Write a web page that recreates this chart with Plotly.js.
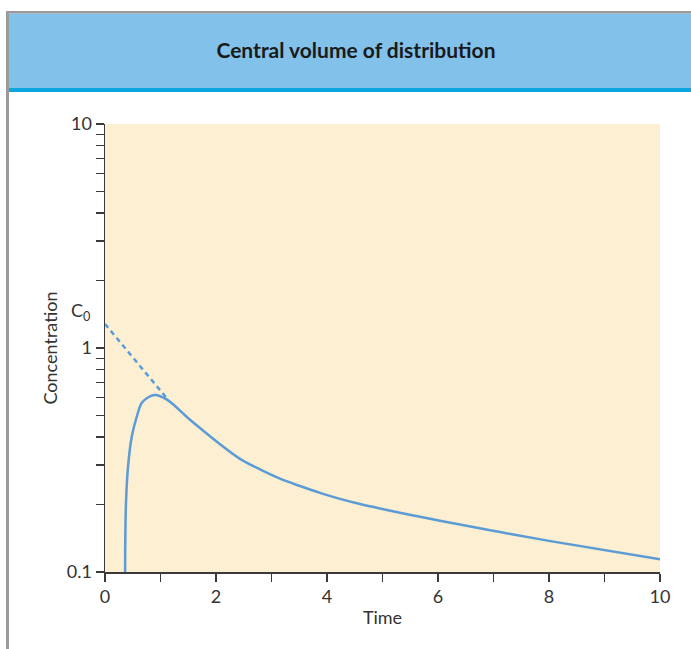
<!DOCTYPE html>
<html>
<head>
<meta charset="utf-8">
<script src="https://cdn.plot.ly/plotly-3.0.1.min.js"></script>
<style>
  html, body { margin: 0; padding: 0; background: #ffffff; }
  #chart { width: 691px; height: 649px; }
</style>
</head>
<body>
<div id="chart"></div>
<script>
// ---- Data ----
const curveTime = [0.36, 0.362, 0.366, 0.378, 0.414, 0.481, 0.571, 0.661, 0.78, 0.90, 1.117, 1.5, 1.712, 2.072, 2.432, 2.793, 3.153, 3.514, 3.874, 4.234, 4.595, 4.955, 5.315, 5.676, 6.036, 6.396, 7.12, 8.0, 10.0];
const curveConc = [0.05, 0.10, 0.14, 0.203, 0.294, 0.401, 0.492, 0.568, 0.603, 0.617, 0.588, 0.486, 0.439, 0.372, 0.320, 0.287, 0.261, 0.242, 0.2255, 0.212, 0.201, 0.192, 0.184, 0.1764, 0.1694, 0.163, 0.1507, 0.1377, 0.114];
const extrapTime = [0, 1.13];
const extrapConc = [1.28, 0.59];
const yTickVals = [0.1,0.2,0.3,0.4,0.5,0.6,0.7,0.8,0.9,1,2,3,4,5,6,7,8,9,10];
const yTickText = ['0.1','','','','','','','','','1','','','','','','','','','10'];
const xTickVals = [0,1,2,3,4,5,6,7,8,9,10];
const xTickText = ['0','','2','','4','','6','','8','','10'];
const titleText = 'Central volume of distribution';
const xTitle = 'Time';
const yTitle = 'Concentration';
const c0Label = 'C<sub>0</sub>';

// ---- Layout geometry (pixels) ----
const W = 691, H = 649;
const L = 105, R = 31, T = 124, B = 77;
const pw = W - L - R, ph = H - T - B;
const px = v => (v - L) / pw;
const py = v => (H - B - v) / ph;

const FONT = 'Lato, "Open Sans", sans-serif';
const lineColor = '#5b9bd6';
const axisColor = '#3a3a3a';
const textColor = '#333333';

const traces = [
  {
    x: curveTime, y: curveConc, type: 'scatter', mode: 'lines',
    line: { color: lineColor, width: 2.5, shape: 'spline', smoothing: 1 },
    hoverinfo: 'skip'
  },
  {
    x: extrapTime, y: extrapConc, type: 'scatter', mode: 'lines',
    line: { color: lineColor, width: 2.5, dash: '5px,4px' },
    hoverinfo: 'skip'
  }
];

const layout = {
  width: W, height: H,
  margin: { l: L, r: R, t: T, b: B, pad: 0 },
  paper_bgcolor: '#ffffff',
  plot_bgcolor: '#fdefd2',
  showlegend: false,
  font: { family: FONT, color: textColor, size: 18 },
  title: {
    text: '<b>' + titleText + '</b>',
    font: { family: FONT, size: 21, color: '#1a1a1a' },
    x: 356 / W, xanchor: 'center', xref: 'container',
    y: 1 - 51 / H, yanchor: 'middle', yref: 'container'
  },
  xaxis: {
    range: [0, 10],
    tickvals: xTickVals, ticktext: xTickText,
    ticks: 'outside', ticklen: 8, tickwidth: 1.5, tickcolor: axisColor,
    showline: true, linecolor: axisColor, linewidth: 1.5,
    showgrid: false, zeroline: false,
    tickfont: { family: FONT, size: 18, color: textColor },
    title: { text: xTitle, font: { family: FONT, size: 18, color: textColor }, standoff: 5 }
  },
  yaxis: {
    type: 'log', range: [-1, 1],
    tickvals: yTickVals, ticktext: yTickText,
    ticks: 'outside', ticklen: 8, tickwidth: 1.5, tickcolor: axisColor,
    showline: true, linecolor: axisColor, linewidth: 1.5,
    showgrid: false, zeroline: false,
    tickfont: { family: FONT, size: 18, color: textColor },
    title: { text: yTitle, font: { family: FONT, size: 18, color: textColor }, standoff: 4 }
  },
  shapes: [
    { type: 'rect', xref: 'paper', yref: 'paper', layer: 'below',
      x0: px(9), x1: px(W + 2), y0: py(88), y1: py(13.5),
      fillcolor: '#82c1ea', line: { width: 0 } },
    { type: 'rect', xref: 'paper', yref: 'paper', layer: 'below',
      x0: px(9), x1: px(W + 2), y0: py(92), y1: py(88),
      fillcolor: '#0aa6e0', line: { width: 0 } },
    { type: 'rect', xref: 'paper', yref: 'paper', layer: 'below',
      x0: px(6), x1: px(W + 2), y0: py(13.5), y1: py(11),
      fillcolor: '#9a9a9a', line: { width: 0 } },
    { type: 'rect', xref: 'paper', yref: 'paper', layer: 'below',
      x0: px(6), x1: px(9), y0: py(H + 2), y1: py(11),
      fillcolor: '#9a9a9a', line: { width: 0 } }
  ],
  annotations: [
    { text: c0Label, xref: 'paper', yref: 'paper', x: px(80), y: py(311),
      xanchor: 'center', yanchor: 'middle', showarrow: false,
      font: { family: FONT, size: 18, color: textColor } }
  ]
};

Plotly.newPlot('chart', traces, layout, { displayModeBar: false, staticPlot: true });
</script>
</body>
</html>
